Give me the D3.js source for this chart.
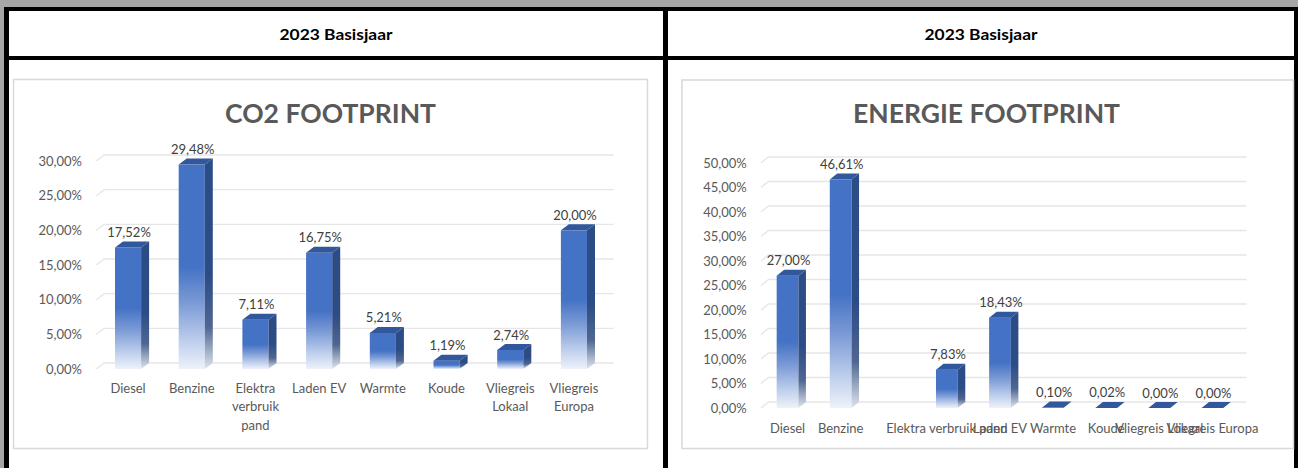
<!DOCTYPE html>
<html>
<head>
<meta charset="utf-8">
<script src="https://cdn.jsdelivr.net/npm/d3@7"></script>
<style>
  html, body { margin: 0; padding: 0; background: #a6a6a6; }
  svg { display: block; }
  text { font-family: Lato, "Open Sans", sans-serif; }
</style>
</head>
<body>
<svg id="chart" width="1298" height="468"></svg>
<script>
// ---------- data ----------
const headerTitle = "2023 Basisjaar";

const co2Title = "CO2 FOOTPRINT";
const co2Categories = ["Diesel", "Benzine", "Elektra verbruik pand", "Laden EV", "Warmte", "Koude", "Vliegreis Lokaal", "Vliegreis Europa"];
const co2Values = [17.52, 29.48, 7.11, 16.75, 5.21, 1.19, 2.74, 20.00];
const co2Ticks = [0, 5, 10, 15, 20, 25, 30];

const energyTitle = "ENERGIE FOOTPRINT";
const energyCategories = ["Diesel", "Benzine", "", "Elektra verbruik pand", "Laden EV", "Warmte", "Koude", "Vliegreis Lokaal", "Vliegreis Europa"];
const energyValues = [27.00, 46.61, null, 7.83, 18.43, 0.10, 0.02, 0.00, 0.00];
const energyTicks = [0, 5, 10, 15, 20, 25, 30, 35, 40, 45, 50];

// ---------- helpers ----------
const nl = d3.formatLocale({decimal: ",", thousands: ".", grouping: [3], currency: ["€", ""]});
const pct = v => nl.format(".2f")(v) + "%";

const svg = d3.select("#chart");

// frame
svg.append("rect").attr("x", 0).attr("y", 0).attr("width", 1298).attr("height", 468).attr("fill", "#a6a6a6");
svg.append("rect").attr("x", 4).attr("y", 7).attr("width", 1294).attr("height", 461).attr("fill", "#000");
svg.append("rect").attr("x", 9).attr("y", 11).attr("width", 654).attr("height", 45).attr("fill", "#fff");
svg.append("rect").attr("x", 668).attr("y", 11).attr("width", 626).attr("height", 45).attr("fill", "#fff");
svg.append("rect").attr("x", 9).attr("y", 60).attr("width", 654).attr("height", 408).attr("fill", "#fff");
svg.append("rect").attr("x", 668).attr("y", 60).attr("width", 626).attr("height", 408).attr("fill", "#fff");

[336, 981].forEach(cx => {
  svg.append("text").attr("x", cx).attr("y", 33.5)
    .attr("text-anchor", "middle").attr("dominant-baseline", "central")
    .attr("font-weight", 700).attr("font-size", 15).attr("fill", "#000")
    .attr("textLength", 113).attr("lengthAdjust", "spacingAndGlyphs")
    .text(headerTitle);
});

// gradients
const defs = svg.append("defs");
const gf = defs.append("linearGradient").attr("id", "gFront").attr("x1", 0).attr("y1", 0).attr("x2", 0).attr("y2", 1);
[[0, "#4472c4"], [0.5, "#4472c4"], [0.68, "#7c9bd6"], [0.85, "#b9cbeb"], [1, "#eef2fa"]]
  .forEach(([o, c]) => gf.append("stop").attr("offset", o).attr("stop-color", c));
const gs = defs.append("linearGradient").attr("id", "gSide").attr("x1", 0).attr("y1", 0).attr("x2", 0).attr("y2", 1);
[[0, "#2c4c86"], [0.55, "#2c4c86"], [0.8, "#4f6690"], [1, "#dfe4ec"]]
  .forEach(([o, c]) => gs.append("stop").attr("offset", o).attr("stop-color", c));

function drawChart(cfg) {
  const g = svg.append("g");
  // chart box
  g.append("rect").attr("x", cfg.box[0]).attr("y", cfg.box[1])
    .attr("width", cfg.box[2] - cfg.box[0]).attr("height", cfg.box[3] - cfg.box[1])
    .attr("fill", "#fff").attr("stroke", "#d9d9d9").attr("stroke-width", 1.5);

  // title
  g.append("text").attr("x", cfg.titleX).attr("y", 112.5)
    .attr("text-anchor", "middle").attr("dominant-baseline", "central")
    .attr("font-weight", 700).attr("font-size", 26).attr("fill", "#595959")
    .attr("textLength", cfg.titleW).attr("lengthAdjust", "spacingAndGlyphs")
    .text(cfg.title);

  const idx = cfg.categories.map((d, i) => i);
  const x = d3.scaleBand().domain(idx).range(cfg.xRange).paddingInner(0.59).paddingOuter(0.295);
  const y = d3.scaleLinear().domain([0, cfg.ticks[cfg.ticks.length - 1]]).range(cfg.yRange);
  const dx = cfg.dx, dy = cfg.dy;
  const bw = x.bandwidth();
  const step = x.step();
  const left = cfg.xRange[0], right = cfg.xRange[1];

  // gridlines on back wall
  g.append("g").selectAll("path").data(cfg.ticks).join("path")
    .attr("d", t => {
      const yy = y(t);
      return `M${left},${yy}L${left + dx},${yy - dy}L${right + dx},${yy - dy}`;
    })
    .attr("fill", "none").attr("stroke", "#e6e6e6").attr("stroke-width", 1.3);

  // y axis labels
  const ax = g.append("g").attr("transform", `translate(${cfg.axisX},0)`)
    .call(d3.axisLeft(y).tickValues(cfg.ticks).tickFormat(pct).tickSize(0).tickPadding(0));
  ax.select(".domain").remove();
  ax.selectAll("text").attr("font-family", "Lato, 'Open Sans', sans-serif")
    .attr("font-size", 13).attr("fill", "#595959");

  // bars
  const data = cfg.values.map((v, i) => ({i, v})).filter(d => d.v !== null);
  const bars = g.append("g").selectAll("g").data(data).join("g");
  const y0 = y(0);
  bars.append("rect")
    .attr("x", d => x(d.i)).attr("y", d => y(d.v))
    .attr("width", bw).attr("height", d => y0 - y(d.v))
    .attr("fill", "url(#gFront)");
  bars.filter(d => y0 - y(d.v) > 0.5).append("path")
    .attr("d", d => {
      const xr = x(d.i) + bw, yt = y(d.v);
      return `M${xr},${yt}L${xr + dx},${yt - dy}L${xr + dx},${y0 - dy}L${xr},${y0}Z`;
    })
    .attr("fill", "url(#gSide)");
  bars.append("path")
    .attr("d", d => {
      const xl = x(d.i), yt = y(d.v);
      return `M${xl},${yt}L${xl + dx},${yt - dy}L${xl + bw + dx},${yt - dy}L${xl + bw},${yt}Z`;
    })
    .attr("fill", "#31579c");

  // value labels
  g.append("g").selectAll("text").data(data).join("text")
    .attr("x", d => x(d.i) + bw / 2 + 1)
    .attr("y", d => y(d.v) - dy - 9.5)
    .attr("text-anchor", "middle").attr("dominant-baseline", "central")
    .attr("font-size", 13).attr("fill", "#404040")
    .text(d => pct(d.v));

  // category labels
  const cl = g.append("g").selectAll("text").data(cfg.categories.map((c, i) => ({c, i}))).join("text")
    .attr("x", d => x(d.i) + bw / 2)
    .attr("y", cfg.catY)
    .attr("text-anchor", "middle").attr("dominant-baseline", "central")
    .attr("font-size", 13).attr("fill", "#595959");
  cl.each(function(d) {
    const t = d3.select(this);
    if (!cfg.wrap) { t.text(d.c); return; }
    const words = d.c.split(" ");
    const lines = [];
    let cur = "";
    words.forEach(w => {
      const test = cur ? cur + " " + w : w;
      t.text(test);
      if (cur && this.getComputedTextLength() > step - 4) { lines.push(cur); cur = w; }
      else cur = test;
    });
    if (cur) lines.push(cur);
    t.text(null);
    lines.forEach((ln, k) => {
      t.append("tspan").attr("x", x(d.i) + bw / 2).attr("y", cfg.catY + k * 18.3).text(ln);
    });
  });
}

drawChart({
  title: co2Title, titleX: 330.5, titleW: 211,
  box: [13.5, 79.5, 647.5, 448.5],
  categories: co2Categories, values: co2Values, ticks: co2Ticks,
  xRange: [96.2, 605.8], yRange: [369, 161], dx: 8, dy: 6,
  axisX: 82, catY: 388, wrap: true
});

drawChart({
  title: energyTitle, titleX: 986.5, titleW: 267,
  box: [682, 80, 1293.5, 448.5],
  categories: energyCategories, values: energyValues, ticks: energyTicks,
  xRange: [761, 1239], yRange: [408, 163], dx: 7.5, dy: 6,
  axisX: 746.7, catY: 428, wrap: false
});
</script>
</body>
</html>
